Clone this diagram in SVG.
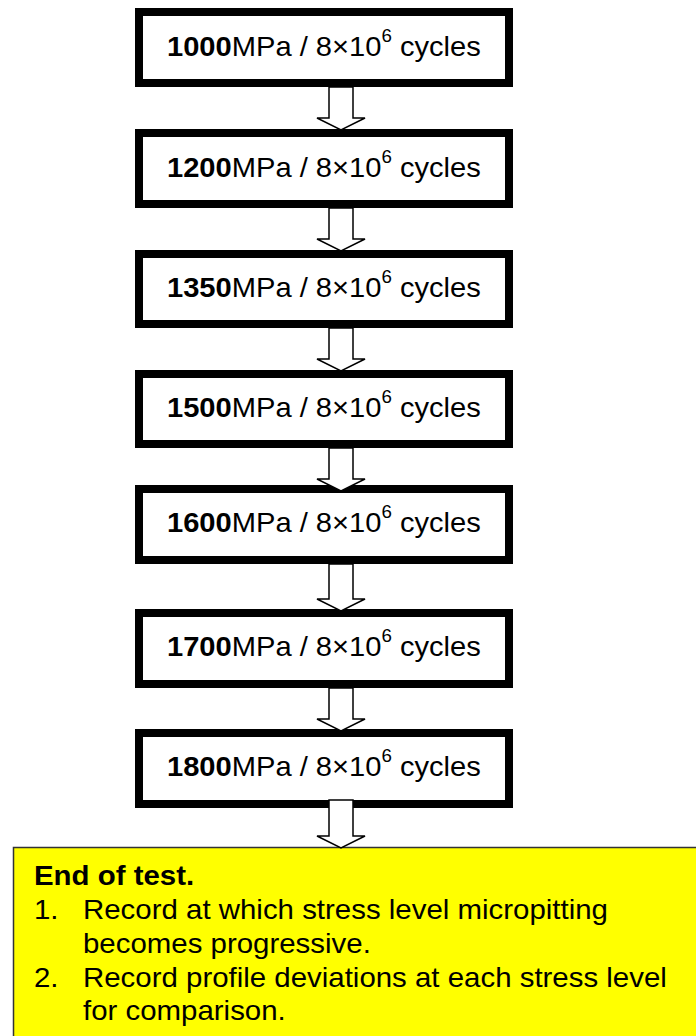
<svg xmlns="http://www.w3.org/2000/svg" width="696" height="1036" viewBox="0 0 696 1036">
<style>
.box{fill:#ffffff;stroke:#000000;stroke-width:8}
.lbl{font-family:"Liberation Sans",Arial,sans-serif;font-size:28px;fill:#000}
.b{font-weight:bold}
.sup{font-size:18px}
.arr{fill:#ffffff;stroke:#000000;stroke-width:1.5;stroke-linejoin:miter}
.note{fill:#ffff00;stroke:#333333;stroke-width:1.5}
.nt{font-family:"Liberation Sans",Arial,sans-serif;font-size:27px;fill:#000}
</style>
<rect width="696" height="1036" fill="#ffffff"/>
<g id="n1000"><rect class="box" x="139" y="12" width="370" height="71"/><text class="lbl" transform="translate(167,56) scale(1.04,1)"><tspan class="b">1000</tspan>MPa / 8×10<tspan class="sup" dy="-14">6</tspan><tspan dy="14"> cycles</tspan></text></g>
<g id="n1200"><rect class="box" x="139" y="133" width="370" height="71"/><text class="lbl" transform="translate(167,177) scale(1.04,1)"><tspan class="b">1200</tspan>MPa / 8×10<tspan class="sup" dy="-14">6</tspan><tspan dy="14"> cycles</tspan></text></g>
<g id="n1350"><rect class="box" x="139" y="254" width="370" height="70"/><text class="lbl" transform="translate(167,297) scale(1.04,1)"><tspan class="b">1350</tspan>MPa / 8×10<tspan class="sup" dy="-14">6</tspan><tspan dy="14"> cycles</tspan></text></g>
<g id="n1500"><rect class="box" x="139" y="374" width="370" height="70"/><text class="lbl" transform="translate(167,417) scale(1.04,1)"><tspan class="b">1500</tspan>MPa / 8×10<tspan class="sup" dy="-14">6</tspan><tspan dy="14"> cycles</tspan></text></g>
<g id="n1600"><rect class="box" x="139" y="489" width="370" height="71"/><text class="lbl" transform="translate(167,532) scale(1.04,1)"><tspan class="b">1600</tspan>MPa / 8×10<tspan class="sup" dy="-14">6</tspan><tspan dy="14"> cycles</tspan></text></g>
<g id="n1700"><rect class="box" x="139" y="613" width="370" height="71"/><text class="lbl" transform="translate(167,656) scale(1.04,1)"><tspan class="b">1700</tspan>MPa / 8×10<tspan class="sup" dy="-14">6</tspan><tspan dy="14"> cycles</tspan></text></g>
<g id="n1800"><rect class="box" x="139" y="733" width="370" height="71"/><text class="lbl" transform="translate(167,776) scale(1.04,1)"><tspan class="b">1800</tspan>MPa / 8×10<tspan class="sup" dy="-14">6</tspan><tspan dy="14"> cycles</tspan></text></g>
<g id="end"><rect class="note" x="13.5" y="847.5" width="700" height="200"/>
<text class="nt b" transform="translate(34,885) scale(1.09,1)">End of test.</text>
<text class="nt" transform="translate(34,919) scale(1.09,1)">1.</text>
<text class="nt" transform="translate(83,919) scale(1.09,1)">Record at which stress level micropitting</text>
<text class="nt" transform="translate(83,953) scale(1.09,1)">becomes progressive.</text>
<text class="nt" transform="translate(34,987) scale(1.09,1)">2.</text>
<text class="nt" transform="translate(83,987) scale(1.09,1)">Record profile deviations at each stress level</text>
<text class="nt" transform="translate(83,1020) scale(1.09,1)">for comparison.</text>
</g>
<g id="connectors">
<polygon class="arr" points="329,87 353,87 353,118 365,118 341,130 317,118 329,118"/>
<polygon class="arr" points="329,208 353,208 353,239 365,239 341,251 317,239 329,239"/>
<polygon class="arr" points="329,328 353,328 353,359 365,359 341,371 317,359 329,359"/>
<polygon class="arr" points="329,448 353,448 353,479 365,479 341,491 317,479 329,479"/>
<polygon class="arr" points="329,564 353,564 353,599 365,599 341,611 317,599 329,599"/>
<polygon class="arr" points="329,688 353,688 353,719 365,719 341,731 317,719 329,719"/>
<polygon class="arr" points="329,800 353,800 353,836 365,836 341,848 317,836 329,836"/>
</g>
</svg>
